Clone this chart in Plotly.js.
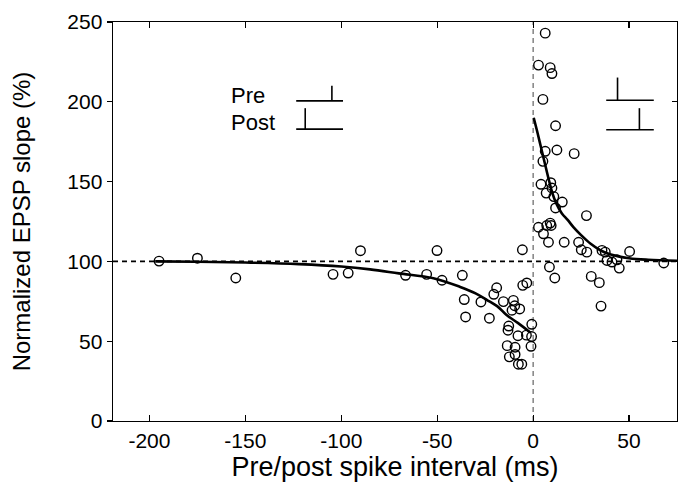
<!DOCTYPE html>
<html>
<head>
<meta charset="utf-8">
<script src="https://cdn.plot.ly/plotly-3.0.1.min.js"></script>
<style>html,body{margin:0;padding:0;background:#fff;}#chart{width:679px;height:485px;}</style>
</head>
<body>
<div id="chart"></div>
<script>
// Scatter data: spike interval (ms) vs normalized EPSP slope (%)
const intervalX = [-195, -175, -155, -104.3, -96.4, -90, -66.5, -55.5, -50.1, -47.5, -36.9, -35.9, -35.2, -27.2, -22.8, -19, -20.5, -15.5, -10.3, -9.6, -11, -7, -5.6, -5.4, -3.3, -12.7, -13.1, -0.7, -7.9, -3.5, -0.8, -1.1, -13.5, -9.4, -12.4, -9.4, -7.7, -5.9,
  6.3, 2.8, 8.9, 9.8, 5.1, 11.7, 6.3, 12.4, 21.4, 5.1, 4.1, 9.2, 9.8, 6.8, 10.8, 15.2, 11.7, 27.8, 2.8, 7.1, 8.9, 9.4, 5.4, 8, 16.2, 23.7, 25.1, 28, 35.9, 37.6, 50.3, 38.5, 41.1, 43.7, 44.9, 68.1, 8.5, 11.3, 30.3, 34.5, 35.4];
const slopeY = [100.2, 102, 89.6, 91.9, 92.7, 106.7, 91.3, 91.9, 106.8, 88.2, 91.3, 76.1, 65.2, 74.6, 64.4, 83.5, 79.4, 74.8, 75.6, 72.2, 69.4, 70.2, 107.3, 85, 86.5, 59.5, 56.9, 60.6, 53.4, 53.8, 52.9, 46.8, 47.2, 46.2, 40.2, 41.7, 35.6, 35.6,
  243, 223, 221.4, 217.7, 201.5, 185, 169, 169.8, 167.5, 162.7, 148.3, 149.3, 146, 142.8, 140.6, 137.2, 133.5, 128.7, 121.4, 122.5, 124, 122.5, 117.3, 112, 112, 112, 107.3, 105.8, 106.9, 105.8, 106.2, 100.6, 99.6, 101, 95.8, 99, 96.5, 89.6, 90.6, 86.7, 72];

// Fitted curves
const fitLeftX = [-197, -175, -150, -122, -100, -85, -70, -52, -38, -30, -24, -18, -14, -8, -1.5];
const fitLeftY = [100, 99.8, 99.3, 98.3, 96.8, 95, 92.5, 89.5, 84, 80, 75.8, 71.2, 66.5, 61.5, 55.5];
const fitRightX = [0.3, 2, 4, 6, 8, 10, 12, 15, 18, 21, 25, 30, 35, 40, 50, 60, 75];
const fitRightY = [190, 182, 172, 162, 152, 143, 136.5, 130, 126, 121.5, 116.5, 111, 107, 104.5, 102, 101, 100.4];

const xTicks = [-200, -150, -100, -50, 0, 50];
const yTicks = [0, 50, 100, 150, 200, 250];
const insetLabels = ['Pre', 'Post'];

const FONT = 'Liberation Sans, Arial, sans-serif';

const traces = [
  {x: fitLeftX, y: fitLeftY, mode: 'lines', line: {color: '#000', width: 2.6, shape: 'spline'}, hoverinfo: 'skip', showlegend: false},
  {x: fitRightX, y: fitRightY, mode: 'lines', line: {color: '#000', width: 2.6, shape: 'spline'}, hoverinfo: 'skip', showlegend: false},
  {x: intervalX, y: slopeY, mode: 'markers', marker: {symbol: 'circle-open', size: 9.5, color: '#000', line: {width: 1.4, color: '#000'}}, showlegend: false},
  {x: [0], y: [0], yaxis: 'y2', mode: 'markers', marker: {opacity: 0}, hoverinfo: 'skip', showlegend: false}
];

const ln = {color: '#000', width: 1.6};
const shapes = [
  {type: 'line', xref: 'paper', x0: 0, x1: 1, yref: 'y', y0: 100, y1: 100, line: {color: '#000', width: 1.6, dash: '5px,4px'}, layer: 'below'},
  {type: 'line', xref: 'x', x0: 0, x1: 0, yref: 'paper', y0: 0, y1: 1, line: {color: '#444', width: 1, dash: '5px,4px'}, layer: 'below'},
  // Pre glyph (left)
  {type: 'line', x0: -123.5, x1: -99.1, y0: 200.6, y1: 200.6, line: ln},
  {type: 'line', x0: -104.9, x1: -104.9, y0: 200.6, y1: 210, line: ln},
  // Post glyph (left)
  {type: 'line', x0: -123.5, x1: -99.1, y0: 182.9, y1: 182.9, line: ln},
  {type: 'line', x0: -118.8, x1: -118.8, y0: 182.9, y1: 196, line: ln},
  // Right glyphs
  {type: 'line', x0: 38.1, x1: 62.9, y0: 201, y1: 201, line: ln},
  {type: 'line', x0: 44, x1: 44, y0: 201, y1: 215.2, line: ln},
  {type: 'line', x0: 38.1, x1: 62.9, y0: 182.5, y1: 182.5, line: ln},
  {type: 'line', x0: 55.4, x1: 55.4, y0: 182.5, y1: 196, line: ln}
];

const annotations = [
  {x: -158.3, y: 204, xref: 'x', yref: 'y', text: insetLabels[0], showarrow: false, xanchor: 'left', yanchor: 'middle', font: {family: FONT, size: 22, color: '#000'}},
  {x: -158.3, y: 187, xref: 'x', yref: 'y', text: insetLabels[1], showarrow: false, xanchor: 'left', yanchor: 'middle', font: {family: FONT, size: 22, color: '#000'}}
];

const layout = {
  width: 679, height: 485,
  margin: {l: 113, r: 2, t: 22, b: 64},
  paper_bgcolor: '#fff', plot_bgcolor: '#fff',
  font: {family: FONT, color: '#000'},
  showlegend: false,
  xaxis: {
    range: [-219, 75], tickvals: xTicks, ticktext: xTicks.map(String),
    ticks: 'inside', ticklen: 6, tickwidth: 1.2, tickcolor: '#000',
    showline: true, linecolor: '#000', linewidth: 1.4, mirror: 'ticks',
    showgrid: false, zeroline: false,
    tickfont: {family: FONT, size: 21, color: '#000'},
    title: {text: 'Pre/post spike interval (ms)', font: {family: FONT, size: 27, color: '#000'}, standoff: 6}
  },
  yaxis: {
    range: [0, 250], tickvals: yTicks, ticktext: yTicks.map(String),
    ticks: 'outside', ticklen: 5, tickwidth: 1.2, tickcolor: '#000',
    showline: true, linecolor: '#000', linewidth: 1.4, mirror: true,
    showgrid: false, zeroline: false,
    tickfont: {family: FONT, size: 21, color: '#000'},
    title: {text: 'Normalized EPSP slope (%)', font: {family: FONT, size: 24, color: '#000'}, standoff: 30}
  },
  yaxis2: {
    overlaying: 'y', side: 'right', range: [0, 250], tickvals: yTicks,
    ticks: 'inside', ticklen: 5, tickwidth: 1.2, tickcolor: '#000',
    showticklabels: false, showline: false, showgrid: false, zeroline: false
  },
  shapes: shapes,
  annotations: annotations
};

Plotly.newPlot('chart', traces, layout, {displayModeBar: false, staticPlot: true});
</script>
</body>
</html>
